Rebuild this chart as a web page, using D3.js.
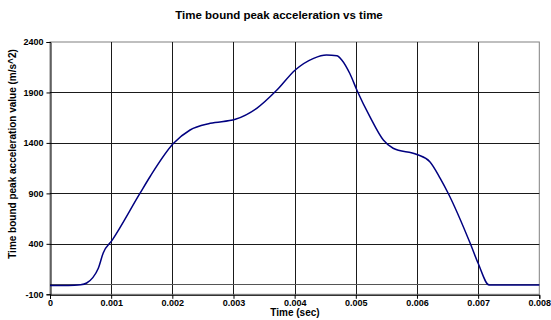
<!DOCTYPE html>
<html>
<head>
<meta charset="utf-8">
<script src="https://cdn.jsdelivr.net/npm/d3@7"></script>
<style>
  body { margin: 0; background: #fff; }
  text { font-family: "Liberation Sans", Arial, sans-serif; font-weight: bold; fill: #000; }
</style>
</head>
<body>
<svg id="chart" width="551" height="320"></svg>
<script>
// values
var timeSec = [0, 0.0002, 0.0004, 0.0005, 0.0006, 0.0007, 0.00079, 0.00087, 0.00102, 0.00147,
    0.00164, 0.00202, 0.00229, 0.00262, 0.00303, 0.00338, 0.00371, 0.00401, 0.00431, 0.00452,
    0.00469, 0.00477, 0.00490, 0.00502, 0.00523, 0.00545, 0.00561, 0.00600, 0.00621, 0.00638,
    0.00651, 0.00687, 0.00700, 0.00718, 0.008];
var accel = [-12, -12, -10, -6, 12, 65, 158, 310, 440, 900,
    1070, 1396, 1528, 1594, 1634, 1743, 1924, 2123, 2238, 2271,
    2264, 2222, 2090, 1920, 1660, 1429, 1347, 1285, 1214, 1049,
    901, 405, 207, -8, -8];
var xTicks = [0, 0.001, 0.002, 0.003, 0.004, 0.005, 0.006, 0.007, 0.008];
var yTicks = [-100, 400, 900, 1400, 1900, 2400];

// plot box (note: "top" is taken by window.top)
var plotL = 50, plotR = 539.3, plotT = 42, plotB = 294.3;
var svg = d3.select("#chart");

var x = d3.scaleLinear().domain([0, 0.008]).range([plotL, plotR]);
var y = d3.scaleLinear().domain([-100, 2400]).range([plotB, plotT]);

// plot area border
svg.append("rect")
    .attr("x", plotL).attr("y", plotT)
    .attr("width", plotR - plotL).attr("height", plotB - plotT)
    .attr("fill", "none").attr("stroke", "#808080").attr("stroke-width", 1);

// gridlines
svg.append("g").selectAll("line").data(yTicks.slice(1, -1)).enter().append("line")
    .attr("x1", plotL).attr("x2", plotR)
    .attr("y1", function (d) { return Math.round(y(d)) + 0.5; })
    .attr("y2", function (d) { return Math.round(y(d)) + 0.5; })
    .attr("stroke", "#1a1a1a");
svg.append("g").selectAll("line").data(xTicks.slice(1, -1)).enter().append("line")
    .attr("y1", plotT).attr("y2", plotB)
    .attr("x1", function (d) { return Math.round(x(d)) + 0.5; })
    .attr("x2", function (d) { return Math.round(x(d)) + 0.5; })
    .attr("stroke", "#1a1a1a");

// x axis crosses at zero
svg.append("line")
    .attr("x1", plotL).attr("x2", plotR)
    .attr("y1", Math.round(y(0)) + 0.5).attr("y2", Math.round(y(0)) + 0.5)
    .attr("stroke", "#555");

// axes
var yAxis = d3.axisLeft(y).tickValues(yTicks).tickSize(4).tickPadding(3)
    .tickFormat(function (d) { return d; });
var gy = svg.append("g").attr("transform", "translate(" + (plotL + 0.5) + ",0)").call(yAxis);
var xAxis = d3.axisBottom(x).tickValues(xTicks).tickSize(4).tickPadding(1)
    .tickFormat(function (d) { return d === 0 ? "0" : d3.format(".3f")(d); });
var gx = svg.append("g").attr("transform", "translate(0," + (plotB + 0.5) + ")").call(xAxis);
[gy, gx].forEach(function (g) {
    g.selectAll("path").attr("stroke", "#000");
    g.selectAll("line").attr("stroke", "#000");
    g.selectAll("text").style("font-size", "9px").style("font-family", "Liberation Sans, Arial, sans-serif")
        .style("font-weight", "bold").attr("fill", "#000");
});

// curve
var pts = timeSec.map(function (t, i) { return [t, accel[i]]; });
var line = d3.line()
    .x(function (d) { return x(d[0]); })
    .y(function (d) { return y(d[1]); })
    .curve(d3.curveMonotoneX);
svg.append("path").datum(pts)
    .attr("d", line)
    .attr("fill", "none")
    .attr("stroke", "#000080")
    .attr("stroke-width", 1.5);

// titles
svg.append("text").attr("x", 279).attr("y", 19)
    .attr("text-anchor", "middle").style("font-size", "11.5px")
    .text("Time bound peak acceleration vs time");
svg.append("text").attr("x", 295).attr("y", 316)
    .attr("text-anchor", "middle").style("font-size", "10px")
    .text("Time (sec)");
svg.append("text")
    .attr("transform", "translate(16,154) rotate(-90)")
    .attr("text-anchor", "middle").style("font-size", "10px")
    .text("Time bound peak acceleration value (m/s^2)");
</script>
</body>
</html>
